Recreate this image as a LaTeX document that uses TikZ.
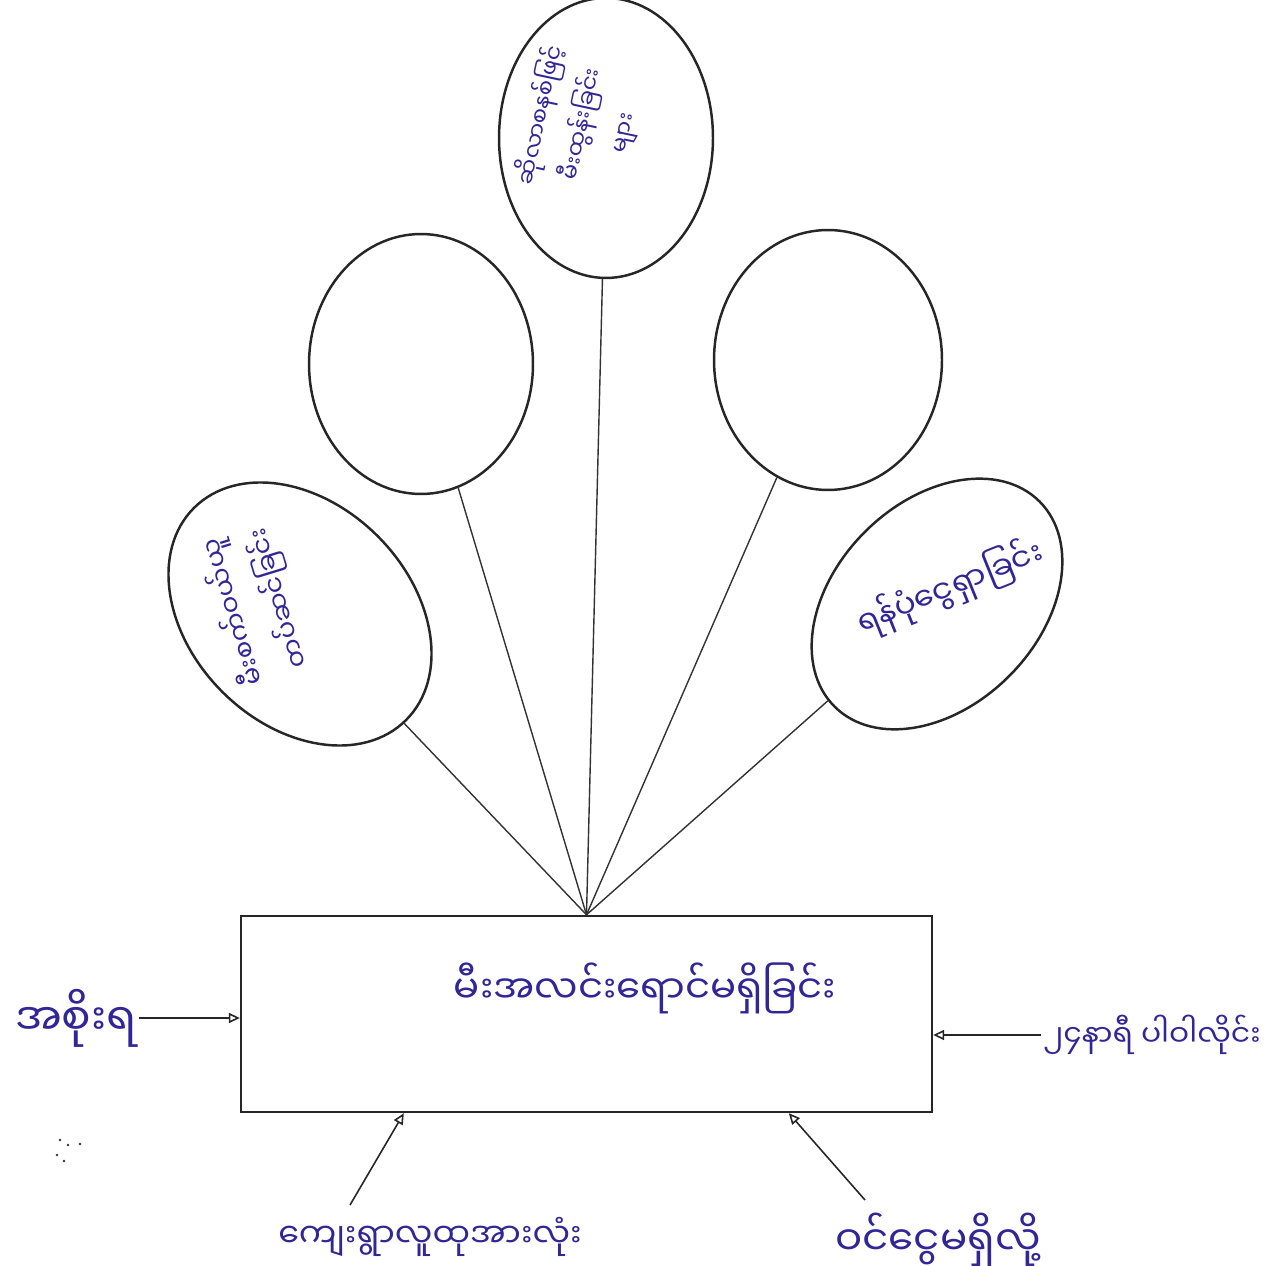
\documentclass[tikz,border=0pt]{standalone}
\usepackage{fontspec}
\newfontfamily\mmfont[Script=Myanmar]{Noto Sans Myanmar UI}
\usepackage{tikz}
\usetikzlibrary{shapes.geometric,arrows.meta,positioning,calc}
\definecolor{inkblue}{RGB}{48,38,150}
\tikzset{
  balloon/.style={ellipse, draw=black!85, line width=1.4pt, inner sep=0pt},
  probbox/.style={rectangle, draw=black!85, line width=1.4pt, inner sep=0pt, minimum width=13.82cm, minimum height=3.92cm},
  ink/.style={text=inkblue, font=\mmfont\fontsize{22}{26}\selectfont, inner sep=1pt, align=center},
  stem/.style={line width=0.8pt, black!80},
  arr/.style={-{Triangle[open, length=2.2mm, width=2mm]}, line width=0.9pt, black!85}
}

\begin{document}
\begin{tikzpicture}[x=0.02cm, y=-0.02cm]
\useasboundingbox (0,0) rectangle (1274,1266);

% balloons
\node[balloon, minimum width=4.28cm, minimum height=5.6cm] (btop) at (606,138) {};
\node[balloon, minimum width=4.48cm, minimum height=5.2cm] (bul) at (421,364) {};
\node[balloon, minimum width=4.56cm, minimum height=5.2cm] (bur) at (828,360) {};
\node[balloon, minimum width=6.0cm, minimum height=4.4cm, rotate=-45] (bll) at (300,614) {};
\node[balloon, minimum width=5.8cm, minimum height=4.08cm, rotate=45] (blr) at (937,604) {};

% balloon texts
\node[ink, font=\mmfont\fontsize{13}{24}\selectfont, rotate=78] (ttop) at (582,124) {ဆိုလာစနစ်ဖြင့်\\မီးထွန်းခြင်း\\များ};
\node[ink, font=\mmfont\fontsize{15}{27}\selectfont, rotate=107] (tll) at (256,605) {မီးစက်ဝယ်ယူ\\တပ်ဆင်ခြင်း};
\node[ink, font=\mmfont\fontsize{18}{22}\selectfont, rotate=22] (tlr) at (950,588) {ရန်ပုံငွေရှာခြင်း};

% problem box
\node[probbox] (box) at (586.5,1014) {};
\node[ink] (ptext) at (645,988) {မီးအလင်းရောင်မရှိခြင်း};

% stems
\draw[stem] (btop) -- (box.north);
\draw[stem] (bul) -- (box.north);
\draw[stem] (bur) -- (box.north);
\draw[stem] (bll) -- (box.north);
\draw[stem] (blr) -- (box.north);

% inputs
\node[ink, font=\mmfont\fontsize{25}{28}\selectfont] (gov) at (76,1018) {အစိုးရ};
\node[ink, font=\mmfont\fontsize{17}{22}\selectfont] (pwr) at (1152,1035) {၂၄နာရီ ပါဝါလိုင်း};
\node[ink, font=\mmfont\fontsize{19}{24}\selectfont] (vil) at (430,1237) {ကျေးရွာလူထုအားလုံး};
\node[ink, font=\mmfont\fontsize{23}{27}\selectfont] (inc) at (938,1240) {ဝင်ငွေမရှိလို့};
\coordinate (vtail) at (350,1205);
\coordinate (itail) at (865,1200);

\draw[arr] (gov.east) -- (gov.east -| box.west);
\draw[arr] (pwr.west) -- (pwr.west -| box.east);
\draw[arr] (vtail) -- ($(box.south west)+(164,0)$);
\draw[arr] (itail) -- ($(box.south west)+(549,0)$);

% stray marks
\foreach \p in {(60,1140),(68,1145),(80,1144),(57,1155),(64,1161)}
  \fill[black!80] \p circle (1.4);
\end{tikzpicture}
\end{document}
